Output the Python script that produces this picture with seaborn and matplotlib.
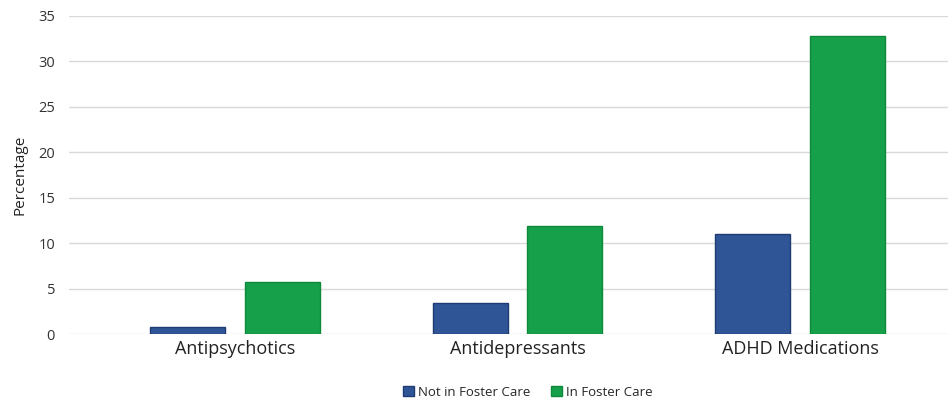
import matplotlib
matplotlib.use("Agg")
import matplotlib.pyplot as plt
import seaborn as sns
import pandas as pd
from matplotlib.patches import Patch

categories = ["Antipsychotics", "Antidepressants", "ADHD Medications"]
groups = ["Not in Foster Care", "In Foster Care"]
not_in_foster = [0.8, 3.4, 11.0]
in_foster = [5.7, 11.9, 32.8]
y_ticks = [0, 5, 10, 15, 20, 25, 30, 35]

fill_colors = {"Not in Foster Care": "#2F5597", "In Foster Care": "#16A04A"}
edge_colors = {"Not in Foster Care": "#1F3B73", "In Foster Care": "#0E8A3A"}

df = pd.DataFrame({
    "Medication": categories * 2,
    "Group": [groups[0]] * 3 + [groups[1]] * 3,
    "Percentage": not_in_foster + in_foster,
})

sns.set_theme(style="white")
plt.rcParams["font.family"] = ["Open Sans", "DejaVu Sans"]

fig = plt.figure(figsize=(9.53, 4.0), dpi=100)
ax = fig.add_axes([69 / 953, 66 / 400, 879 / 953, 318 / 400])

sns.barplot(data=df, x="Medication", y="Percentage", hue="Group",
            hue_order=groups, order=categories, palette=fill_colors,
            width=0.67, gap=0.21, ax=ax, legend=False, saturation=1)

for bars, g in zip(ax.containers, groups):
    for b in bars:
        b.set_edgecolor(edge_colors[g])
        b.set_linewidth(1.0)

ax.set_ylim(0, 35)
ax.set_xlim(-0.588, 2.524)
ax.set_yticks(y_ticks)
ax.set_yticklabels([str(t) for t in y_ticks], fontsize=10.5, color="#333333")
ax.yaxis.grid(True, color="#D9D9D9", linewidth=1.0)
ax.set_axisbelow(True)
for s in ax.spines.values():
    s.set_visible(False)
ax.tick_params(axis="both", length=0)
ax.tick_params(axis="y", pad=10)
ax.tick_params(axis="x", pad=4)
for lbl in ax.get_xticklabels():
    lbl.set_fontsize(13)
    lbl.set_color("#222222")
ax.set_xlabel("")
ax.set_ylabel("Percentage", fontsize=11, color="#222222", labelpad=8)

handles = [Patch(facecolor=fill_colors[g], edgecolor=edge_colors[g], label=g) for g in groups]
fig.legend(handles=handles, loc="center", bbox_to_anchor=(528 / 953, 0.02),
           ncol=2, frameon=False, fontsize=9.5, handlelength=0.8, handleheight=0.8,
           handletextpad=0.3, columnspacing=1.6)

fig.savefig("out.png", dpi=100)
